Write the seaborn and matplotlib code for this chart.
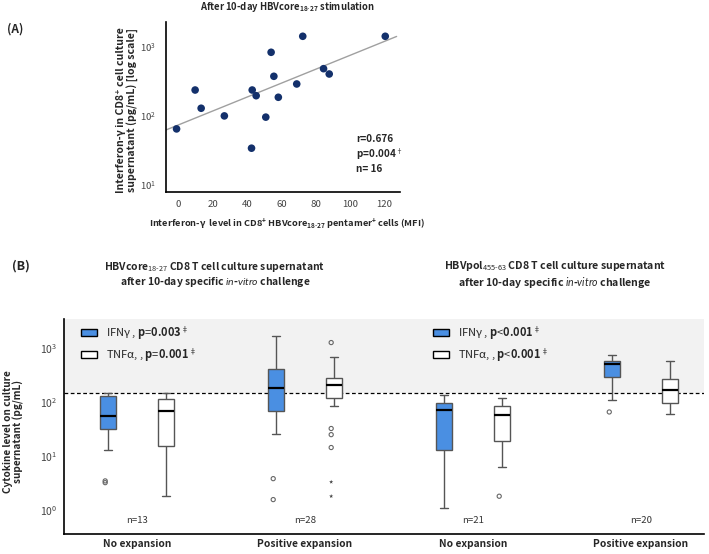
import numpy as np
import pandas as pd
import matplotlib
matplotlib.use("Agg")
import matplotlib.pyplot as plt
from matplotlib.patches import Patch, PathPatch
import seaborn as sns

# ---- panel A: IFN-gamma MFI vs supernatant IFN-gamma ----
mfi = [-1, 9.8, 13.3, 26.8, 42.6, 43, 45.3, 50.9, 54, 55.6, 58.2, 68.9, 72.4, 84.5, 87.8, 120.4]
ifng_sup = [64, 236, 128, 99, 33.5, 236, 195, 95, 837, 374, 185, 289, 1432, 483, 404, 1432]

# ---- panel B: cytokine levels per group (whisker low, q1, median, q3, whisker high) ----
groups = ["core_no", "core_pos", "pol_no", "pol_pos"]
group_labels = ["No expansion", "Positive expansion", "No expansion", "Positive expansion"]
n_labels = ["n=13", "n=28", "n=21", "n=20"]
cytokines = ["IFNγ", "TNFα"]
ifng_box = [[13.2, 32.4, 55.6, 131, 151], [26.2, 68, 188, 423, 1687],
            [1.10, 13.2, 71, 98.7, 139], [108, 295, 509, 586, 748]]
tnfa_box = [[1.81, 15.7, 68, 117, 151], [86.9, 120, 213, 279, 695],
            [6.3, 19.1, 57.3, 84.3, 122], [61.7, 97, 167, 268, 578]]
ifng_out = [[3.2, 3.45], [3.8, 1.55], [], [66]]
tnfa_out = [[], [1288, 32.5, 25, 14.4], [1.79], []]
tnfa_extreme = [[], [3.3, 1.79], [], []]
threshold = 150
legend_core = ["IFNγ , $\\mathbf{p}$=$\\mathbf{0.003}^{‡}$", "TNFα, , $\\mathbf{p}$=$\\mathbf{0.001}^{‡}$"]
legend_pol = ["IFNγ , $\\mathbf{p}$<$\\mathbf{0.001}^{‡}$", "TNFα, , $\\mathbf{p}$<$\\mathbf{0.001}^{‡}$"]

FONT = "Noto Sans CJK JP"
sns.set_style("white")
plt.rcParams["font.family"] = [FONT, "DejaVu Sans"]
plt.rcParams["mathtext.fontset"] = "custom"
plt.rcParams["mathtext.rm"] = FONT
plt.rcParams["mathtext.bf"] = FONT + ":bold"
plt.rcParams["mathtext.it"] = "Lato:italic"

fig = plt.figure(figsize=(7.09, 5.54), dpi=100)
renderer = fig.canvas.get_renderer()
PX = 100 / 72


def fit(t, target, vertical=False):
    # scale a text so its extent matches the reference (pixels)
    bb = t.get_window_extent(renderer)
    cur = bb.height if vertical else bb.width
    t.set_fontsize(t.get_fontsize() * target / cur)
    return t.get_fontsize()


# ================= panel A =================
axA = fig.add_axes([0.234, 0.6534, 0.33, 0.3066])
sns.scatterplot(x=mfi, y=ifng_sup, ax=axA, color="#13306b", s=30, edgecolor="none", zorder=3)
axA.set_yscale("log")
fit_line = np.polyfit(mfi, np.log10(ifng_sup), 1)
xx = np.linspace(-7, 127, 50)
sns.lineplot(x=xx, y=10 ** np.polyval(fit_line, xx), ax=axA, color="#a0a0a0", lw=1)
axA.set_xlim(-7.2, 128.9)
axA.set_ylim(7.7, 2300)
axA.set_xticks([0, 20, 40, 60, 80, 100, 120])
axA.set_yticks([10, 100, 1000])
axA.minorticks_off()
axA.tick_params(length=0, labelsize=8, colors="#444444")
axA.tick_params(axis="y", pad=7)
axA.tick_params(axis="x", pad=6)
for s in ["top", "right"]:
    axA.spines[s].set_visible(False)
for s in ["left", "bottom"]:
    axA.spines[s].set_color("black")
    axA.spines[s].set_linewidth(1.2)

yl = axA.set_ylabel("Interferon-γ in CD8⁺ cell culture\nsupernatant (pg/mL) [log scale]",
                    fontsize=8, fontweight="bold", linespacing=1.1)
sA = fit(yl, 164, vertical=True)
axA.yaxis.set_label_coords(-0.118, 0.48)
xl = axA.set_xlabel("Interferon-γ  level in CD8$^{\\mathbf{+}}$ HBVcore$_{\\mathbf{18\\text{-}27}}$ "
                    "pentamer$^{\\mathbf{+}}$ cells (MFI)", fontsize=sA * 0.88, fontweight="bold")
axA.xaxis.set_label_coords(0.519, -0.14)
axA.text(0.812, 0.2235, "r=0.676\np=0.004$^{†}$\nn= 16", transform=axA.transAxes,
         fontsize=sA * 0.95, fontweight="bold", va="center", ha="left", linespacing=1.25)
fig.text(0.406, 0.987, "After 10-day HBVcore$_{\\mathbf{18\\text{-}27}}$ stimulation", ha="center",
         va="center", fontsize=sA * 0.9, fontweight="bold")
fig.text(0.022, 0.948, "(A)", ha="center", va="center", fontsize=8.5, fontweight="bold")

# ================= panel B =================
rows = []
for g, ib, tb in zip(groups, ifng_box, tnfa_box):
    rows += [{"group": g, "cytokine": cytokines[0], "value": v} for v in ib]
    rows += [{"group": g, "cytokine": cytokines[1], "value": v} for v in tb]
df = pd.DataFrame(rows)

axB = fig.add_axes([0.0903, 0.037, 0.9027, 0.388])
axB.set_yscale("log")
sns.boxplot(data=df, x="group", y="value", hue="cytokine", order=groups, hue_order=cytokines,
            palette={"IFNγ": "#4a8fe2", "TNFα": "white"}, saturation=1, width=0.69, gap=0.73,
            linecolor="#555555", linewidth=1, showfliers=False, legend=False,
            medianprops={"color": "black", "linewidth": 1.6}, ax=axB)
axB.set_xlim(-0.433, 3.376)
axB.set_ylim(0.363, 3600)
axB.axhspan(threshold, 3600, color="#f2f2f2", zorder=0, lw=0)
axB.axhline(threshold, color="black", lw=0.9, ls=(0, (3, 2)), zorder=1)

# outliers at box centres
boxes = sorted([p for p in axB.patches if isinstance(p, PathPatch)],
               key=lambda p: p.get_path().vertices[:, 0].mean())
centers = [p.get_path().vertices[:, 0].mean() for p in boxes]
for i in range(len(groups)):
    for j, (outs, ext) in enumerate([(ifng_out[i], []), (tnfa_out[i], tnfa_extreme[i])]):
        cx = centers[2 * i + j]
        if outs:
            sns.scatterplot(x=[cx] * len(outs), y=outs, ax=axB, marker="o", s=9,
                            facecolor="none", edgecolor="#666666", linewidth=0.8, zorder=4)
        if ext:
            sns.scatterplot(x=[cx] * len(ext), y=ext, ax=axB, marker="*", s=10,
                            color="#444444", edgecolor="none", zorder=4)

axB.set_yticks([1, 10, 100, 1000])
axB.minorticks_off()
axB.set_xticks(range(len(groups)))
axB.set_xticklabels(group_labels, fontsize=9, fontweight="bold")
axB.tick_params(length=0)
axB.tick_params(axis="y", labelsize=8.5, labelcolor="#444444", pad=5)
axB.tick_params(axis="x", pad=4)
axB.set_xlabel("")
ylB = axB.set_ylabel("Cytokine level on culture\nsupernatant (pg/mL)", fontsize=8.5,
                     fontweight="bold", linespacing=1.05)
fit(ylB, 123, vertical=True)
axB.yaxis.set_label_coords(-0.062, 0.474)
for s in ["top", "right"]:
    axB.spines[s].set_visible(False)
for s in ["left", "bottom"]:
    axB.spines[s].set_color("black")
    axB.spines[s].set_linewidth(1.2)

# tick label sizes matched to reference widths
fig.canvas.draw()
axA.tick_params(labelsize=fit(axA.get_xticklabels()[-1], 16))
axB.tick_params(axis="x", labelsize=fit(axB.get_xticklabels()[1], 95))
axB.tick_params(axis="y", labelsize=fit(axB.get_yticklabels()[-1], 17))

for i, lab in enumerate(n_labels):
    tn = axB.text(i, 0.06, lab, transform=axB.get_xaxis_transform(), ha="center",
                  va="center", fontsize=9, color="#333333")
    fit(tn, 22)

probe = fig.text(0, 0, legend_core[0], fontsize=10)
leg_size = fit(probe, 82)
probe.remove()
handles = [Patch(facecolor="#4a8fe2", edgecolor="black", lw=1),
           Patch(facecolor="white", edgecolor="black", lw=1)]
leg_kw = dict(loc="upper left", frameon=False, fontsize=leg_size,
              handlelength=16 / (leg_size * PX), handleheight=0.6,
              handletextpad=9 / (leg_size * PX), labelspacing=0.45,
              borderpad=0, borderaxespad=0)
legB1 = axB.legend(handles, legend_core, bbox_to_anchor=(0.0266, 0.975), **leg_kw)
axB.add_artist(legB1)
axB.legend(handles, legend_pol, bbox_to_anchor=(0.5766, 0.975), **leg_kw)

t1 = fig.text(0.303, 0.5045, "HBVcore$_{18\\text{-}27}$ CD8 T cell culture supernatant\n"
              "after 10-day specific $\\mathit{in}$-$\\mathit{vitro}$ challenge",
              ha="center", va="center", fontsize=9, fontweight="semibold", linespacing=1.1)
t2 = fig.text(0.783, 0.5045, "HBVpol$_{455\\text{-}63}$ CD8 T cell culture supernatant\n"
              "after 10-day specific $\\mathit{in}$-$\\mathit{vitro}$ challenge",
              ha="center", va="center", fontsize=9, fontweight="semibold", linespacing=1.1)
fit(t1, 221)
fit(t2, 222)
fig.text(0.03, 0.52, "(B)", ha="center", va="center", fontsize=9, fontweight="bold")

fig.savefig("out.png", dpi=100)
